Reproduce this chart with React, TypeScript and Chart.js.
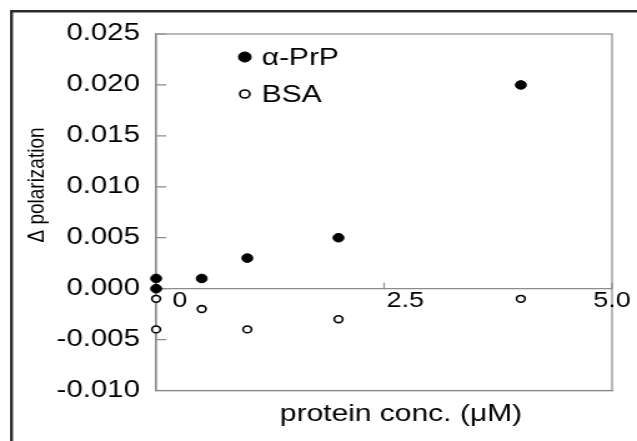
import React, { useEffect, useRef } from 'react';
import { Chart, registerables } from 'chart.js';

Chart.register(...registerables);

// ---- data ----
const seriesNames = ['α-PrP', 'BSA'];
const prpX = [0, 0, 0.5, 1, 2, 4];
const prpY = [0.001, 0.0, 0.001, 0.003, 0.005, 0.02];
const bsaX = [0, 0, 0.5, 1, 2, 4];
const bsaY = [-0.001, -0.004, -0.002, -0.004, -0.003, -0.001];
const xTickValues = [0, 2.5, 5];
const xTickLabels = ['0', '2.5', '5.0'];
const yMin = -0.01;
const yMax = 0.025;
const yStep = 0.005;
const xMin = 0;
const xMax = 5;
const xTitle = 'protein conc. (μM)';
const yTitle = 'Δ polarization';

// ---- style ----
const FONT = '"Liberation Sans", Arial, Helvetica, sans-serif';
const GRAY = '#8c8c8c';
const INTERNAL_W = 510;
const H = 441;

const xLabelPlacement = [
  { align: 'center', dx: 19 },
  { align: 'left', dx: 2 },
  { align: 'center', dx: 0 },
];

const decorations = {
  id: 'decorations',
  beforeDraw(chart: any) {
    const ctx = chart.ctx;
    ctx.save();
    ctx.fillStyle = '#ffffff';
    ctx.fillRect(0, 0, chart.width, chart.height);
    ctx.fillStyle = '#2b2b2b';
    ctx.fillRect(8, 10, 2.4, chart.height);
    ctx.fillRect(8, 10, chart.width, 2.5);
    ctx.restore();
  },
  beforeDatasetsDraw(chart: any) {
    const ctx = chart.ctx;
    const a = chart.chartArea;
    const xs = chart.scales.x;
    const ys = chart.scales.y;
    ctx.save();
    ctx.strokeStyle = GRAY;
    ctx.lineWidth = 1.2;
    ctx.strokeRect(a.left, a.top, a.right - a.left, a.bottom - a.top);
    ctx.beginPath();
    ys.ticks.forEach((t: any) => {
      const y = ys.getPixelForValue(t.value);
      ctx.moveTo(a.left, y);
      ctx.lineTo(a.left + 8, y);
    });
    const y0 = ys.getPixelForValue(0);
    xTickValues.forEach((v) => {
      const x = xs.getPixelForValue(v);
      ctx.moveTo(x, y0);
      ctx.lineTo(x, y0 - 6);
    });
    ctx.stroke();
    ctx.restore();
  },
  afterDraw(chart: any) {
    const ctx = chart.ctx;
    const a = chart.chartArea;
    const xs = chart.scales.x;
    const ys = chart.scales.y;
    ctx.save();
    ctx.fillStyle = '#000';
    // x tick labels under the zero line
    ctx.font = `21.5px ${FONT}`;
    ctx.textBaseline = 'middle';
    const y0 = ys.getPixelForValue(0);
    xTickValues.forEach((v, i) => {
      const p = xLabelPlacement[i];
      ctx.textAlign = p.align;
      ctx.fillText(xTickLabels[i], xs.getPixelForValue(v) + p.dx, y0 + 12);
    });
    // axis titles
    ctx.textAlign = 'center';
    ctx.font = `24px ${FONT}`;
    ctx.fillText(xTitle, (a.left + a.right) / 2 + 13.5, 414.5);
    ctx.save();
    ctx.translate(29.5, 185);
    ctx.rotate(-Math.PI / 2);
    ctx.font = `19px ${FONT}`;
    ctx.fillText(yTitle, 0, 0);
    ctx.restore();
    // legend inside plot
    const lx = a.left + 71;
    const rows = [57, 94];
    chart.data.datasets.forEach((ds: any, i: number) => {
      const cy = rows[i];
      ctx.beginPath();
      ctx.arc(lx, cy, i === 0 ? 5 : 4, 0, Math.PI * 2);
      ctx.fillStyle = ds.backgroundColor;
      ctx.fill();
      ctx.lineWidth = ds.borderWidth;
      ctx.strokeStyle = ds.borderColor;
      ctx.stroke();
      ctx.fillStyle = '#000';
      ctx.textAlign = 'left';
      ctx.textBaseline = 'middle';
      ctx.font = `24px ${FONT}`;
      ctx.fillText(ds.label, lx + 13.5, cy + 1);
    });
    ctx.restore();
  },
};

export default function App() {
  const ref = useRef<HTMLCanvasElement | null>(null);
  useEffect(() => {
    document.body.style.margin = '0';
    const canvas = ref.current!;
    const chart = new Chart(canvas, {
      type: 'scatter',
      data: {
        datasets: [
          {
            label: seriesNames[0],
            data: prpX.map((x, i) => ({ x, y: prpY[i] })),
            backgroundColor: '#000000',
            borderColor: '#000000',
            borderWidth: 1,
            pointRadius: 4.3,
            pointHoverRadius: 4.3,
            clip: false,
          },
          {
            label: seriesNames[1],
            data: bsaX.map((x, i) => ({ x, y: bsaY[i] })),
            backgroundColor: '#ffffff',
            borderColor: '#000000',
            borderWidth: 1.6,
            pointRadius: 3.4,
            pointHoverRadius: 3.4,
            clip: false,
          },
        ],
      },
      plugins: [decorations],
      options: {
        responsive: false,
        animation: false,
        devicePixelRatio: 1,
        layout: { padding: { left: 0, top: 34, right: 20, bottom: 0 } },
        plugins: { legend: { display: false }, tooltip: { enabled: false } },
        scales: {
          x: {
            type: 'linear',
            min: xMin,
            max: xMax,
            afterFit: (s: any) => {
              s.height = 50.5;
            },
            grid: { display: false, drawTicks: false },
            border: { display: true, color: GRAY, width: 1.2 },
            ticks: { display: false },
            title: { display: false },
          },
          y: {
            type: 'linear',
            min: yMin,
            max: yMax,
            afterFit: (s: any) => {
              s.width = 125;
            },
            grid: {
              drawTicks: false,
              drawOnChartArea: true,
              color: (c: any) => (c.tick && Math.abs(c.tick.value) < 1e-9 ? GRAY : 'rgba(0,0,0,0)'),
              lineWidth: 1.2,
            },
            border: { display: true, color: GRAY, width: 1.2 },
            ticks: {
              stepSize: yStep,
              padding: 13,
              color: '#000',
              font: { family: FONT, size: 23.5 },
              callback: (v: any) => Number(v).toFixed(3),
            },
            title: { display: false },
          },
        },
      } as any,
    });
    return () => chart.destroy();
  }, []);
  return (
    <canvas
      ref={ref}
      width={INTERNAL_W}
      height={H}
      style={{ display: 'block', width: '637px', height: `${H}px` }}
    />
  );
}
